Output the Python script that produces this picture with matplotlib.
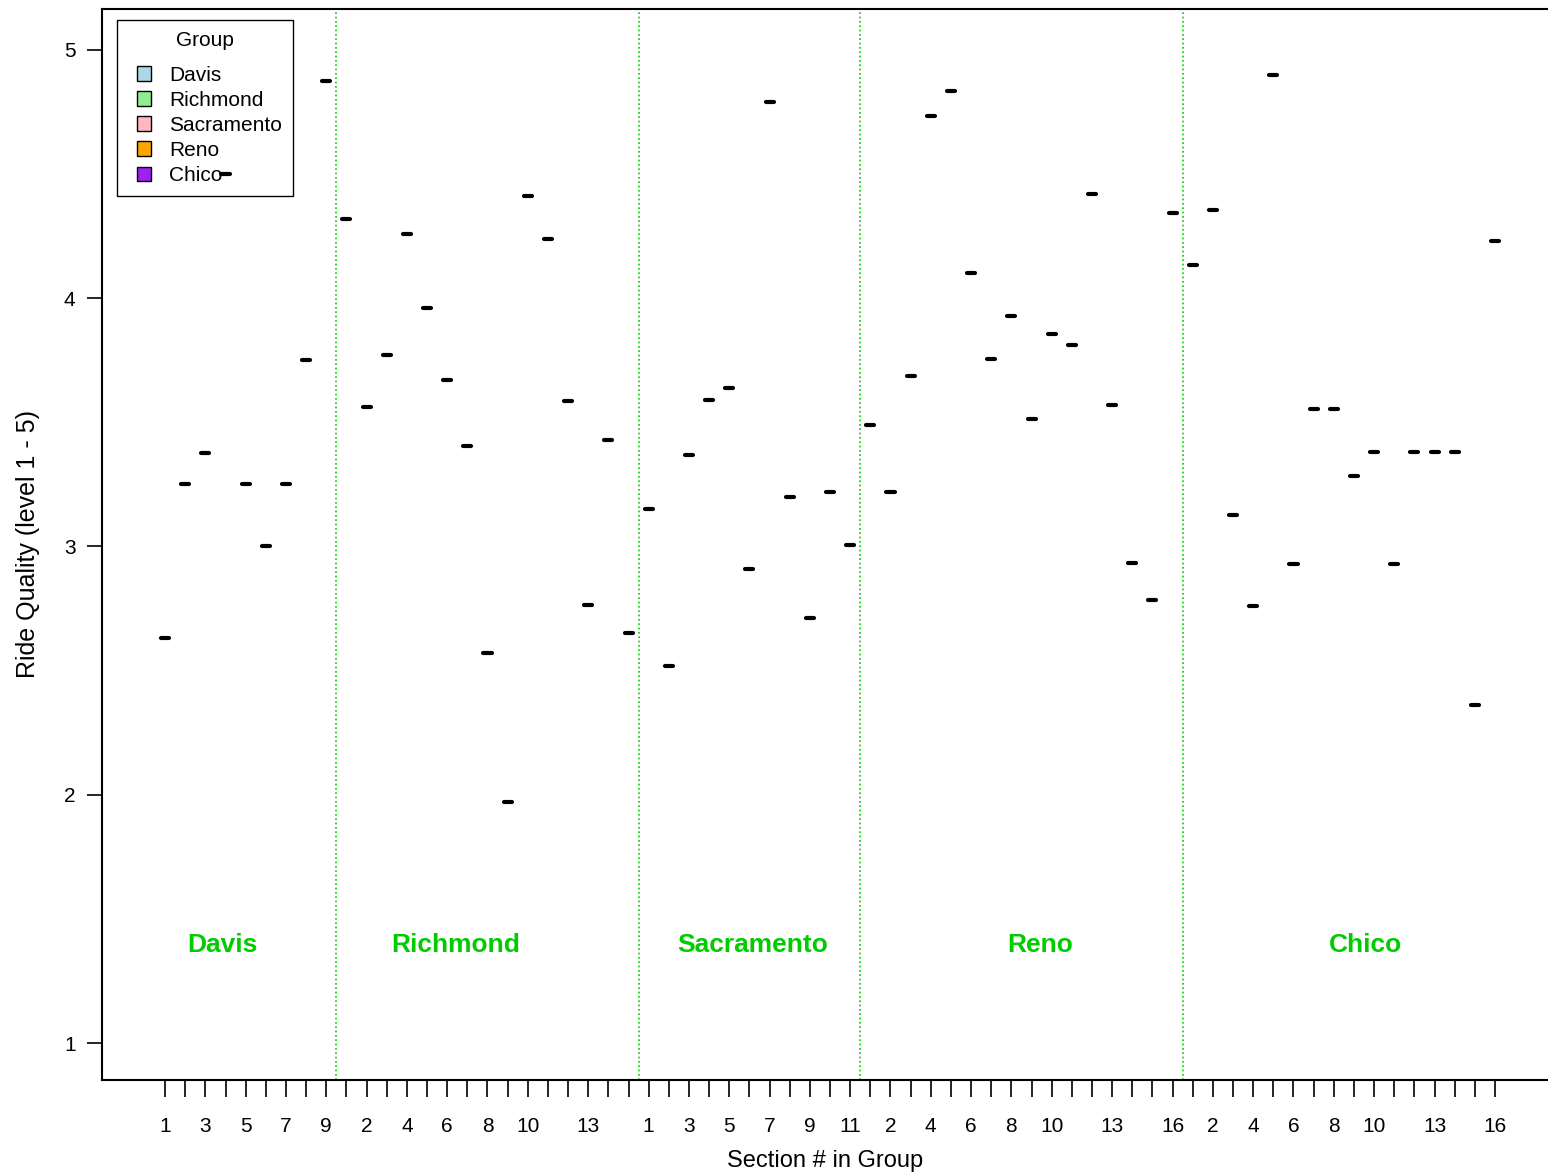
import numpy as np
import matplotlib
matplotlib.use('Agg')
import matplotlib.pyplot as plt
import matplotlib.patches as mpatches
from matplotlib.legend_handler import HandlerPatch

plt.rcParams['font.family'] = ['Liberation Sans', 'DejaVu Sans']

# ── Data ──────────────────────────────────────────────────────────────────────
GROUPS = ['Davis', 'Richmond', 'Sacramento', 'Reno', 'Chico']
GROUP_COLORS = ['#ADD8E6', '#90EE90', '#FFB6C1', '#FFA500', '#A020F0']

davis = [2.63, 3.25, 3.375, 4.50, 3.25, 3.00, 3.25, 3.75, 4.875]
richmond = [4.32, 3.56, 3.77, 4.26, 3.96, 3.67, 3.405, 2.57, 1.97, 4.41,
            4.24, 3.585, 2.765, 3.43, 2.65]
sacramento = [3.15, 2.52, 3.37, 3.59, 3.64, 2.91, 4.79, 3.20, 2.71, 3.22,
              3.005]
reno = [3.49, 3.22, 3.685, 4.735, 4.835, 4.10, 3.755, 3.93, 3.515, 3.855,
        3.81, 4.42, 3.57, 2.935, 2.785, 4.345]
chico = [4.135, 4.355, 3.125, 2.76, 4.90, 2.93, 3.555, 3.555, 3.285, 3.38,
         2.93, 3.38, 3.38, 3.38, 2.36, 4.23]

SERIES = [davis, richmond, sacramento, reno, chico]

# tick labels actually printed under each group (others left blank)
SHOWN = [
    [1, 3, 5, 7, 9],
    [2, 4, 6, 8, 10, 13],
    [1, 3, 5, 7, 9, 11],
    [2, 4, 6, 8, 10, 13, 16],
    [2, 4, 6, 8, 10, 13, 16],
]
LABEL_X = [3.83, 15.44, 30.18, 44.42, 60.55]

# ── Figure ────────────────────────────────────────────────────────────────────
W, H = 1548, 1176
fig = plt.figure(figsize=(W / 100, H / 100), dpi=100)
ax = fig.add_axes([102 / W, 1 - 1080 / H, 1 - 102 / W, (1080 - 9) / H])

green = '#00CC00'
pos = 1
ticks, ticklabels, bounds = [], [], []
for vals, shown in zip(SERIES, SHOWN):
    x = np.arange(pos, pos + len(vals))
    ax.hlines(vals, x - 0.2, x + 0.2, color='black', lw=3.0,
              capstyle='round', zorder=6)
    for i, xi in enumerate(x):
        ticks.append(xi)
        ticklabels.append(str(i + 1) if (i + 1) in shown else '')
    pos += len(vals)
    bounds.append(pos - 0.5)

for b in bounds[:-1]:
    ax.axvline(b, color=green, lw=1.2, ls=(0, (1, 1.6)), zorder=2)

for g, lx in zip(GROUPS, LABEL_X):
    ax.text(lx, 1.393, g, color=green, fontsize=19, fontweight='bold',
            ha='center', va='center')

ax.set_xlim(-2.13, 69.63)
ax.set_ylim(0.851, 5.165)
ax.set_xticks(ticks)
ax.set_xticklabels(ticklabels)
ax.set_yticks([1, 2, 3, 4, 5])
ax.tick_params(axis='x', length=12, width=1.2, labelsize=15, pad=15)
ax.tick_params(axis='y', length=11, width=1.2, labelsize=15, pad=8)
for s in ['left', 'top', 'bottom']:
    ax.spines[s].set_linewidth(1.5)
ax.spines['right'].set_visible(False)

ax.set_xlabel('Section # in Group', fontsize=17, labelpad=10)
ax.set_ylabel('Ride Quality (level 1 - 5)', fontsize=18, labelpad=17)


# legend squares sit at the right end of a wider handle slot
def square(legend, orig_handle, xdescent, ydescent, width, height, fontsize):
    side = 0.68 * fontsize
    return mpatches.Rectangle((-xdescent + width - side,
                               -ydescent + (height - side) / 2), side, side)


handles = [mpatches.Patch(facecolor=c, edgecolor='black', lw=1.0, label=g)
           for g, c in zip(GROUPS, GROUP_COLORS)]
leg = ax.legend(handles=handles, title='Group', loc='upper left',
                bbox_to_anchor=(117 / W, 1 - 20 / H),
                bbox_transform=fig.transFigure, borderaxespad=0,
                fontsize=15, title_fontsize=15, fancybox=False,
                edgecolor='black', framealpha=1, handlelength=1.08,
                handleheight=0.68, labelspacing=0.29, handletextpad=0.87,
                borderpad=0.55,
                handler_map={mpatches.Patch: HandlerPatch(patch_func=square)})
leg._legend_box.sep = 11
leg.get_frame().set_linewidth(1.0)
leg.set_zorder(3)

fig.savefig('out.png', dpi=100)
